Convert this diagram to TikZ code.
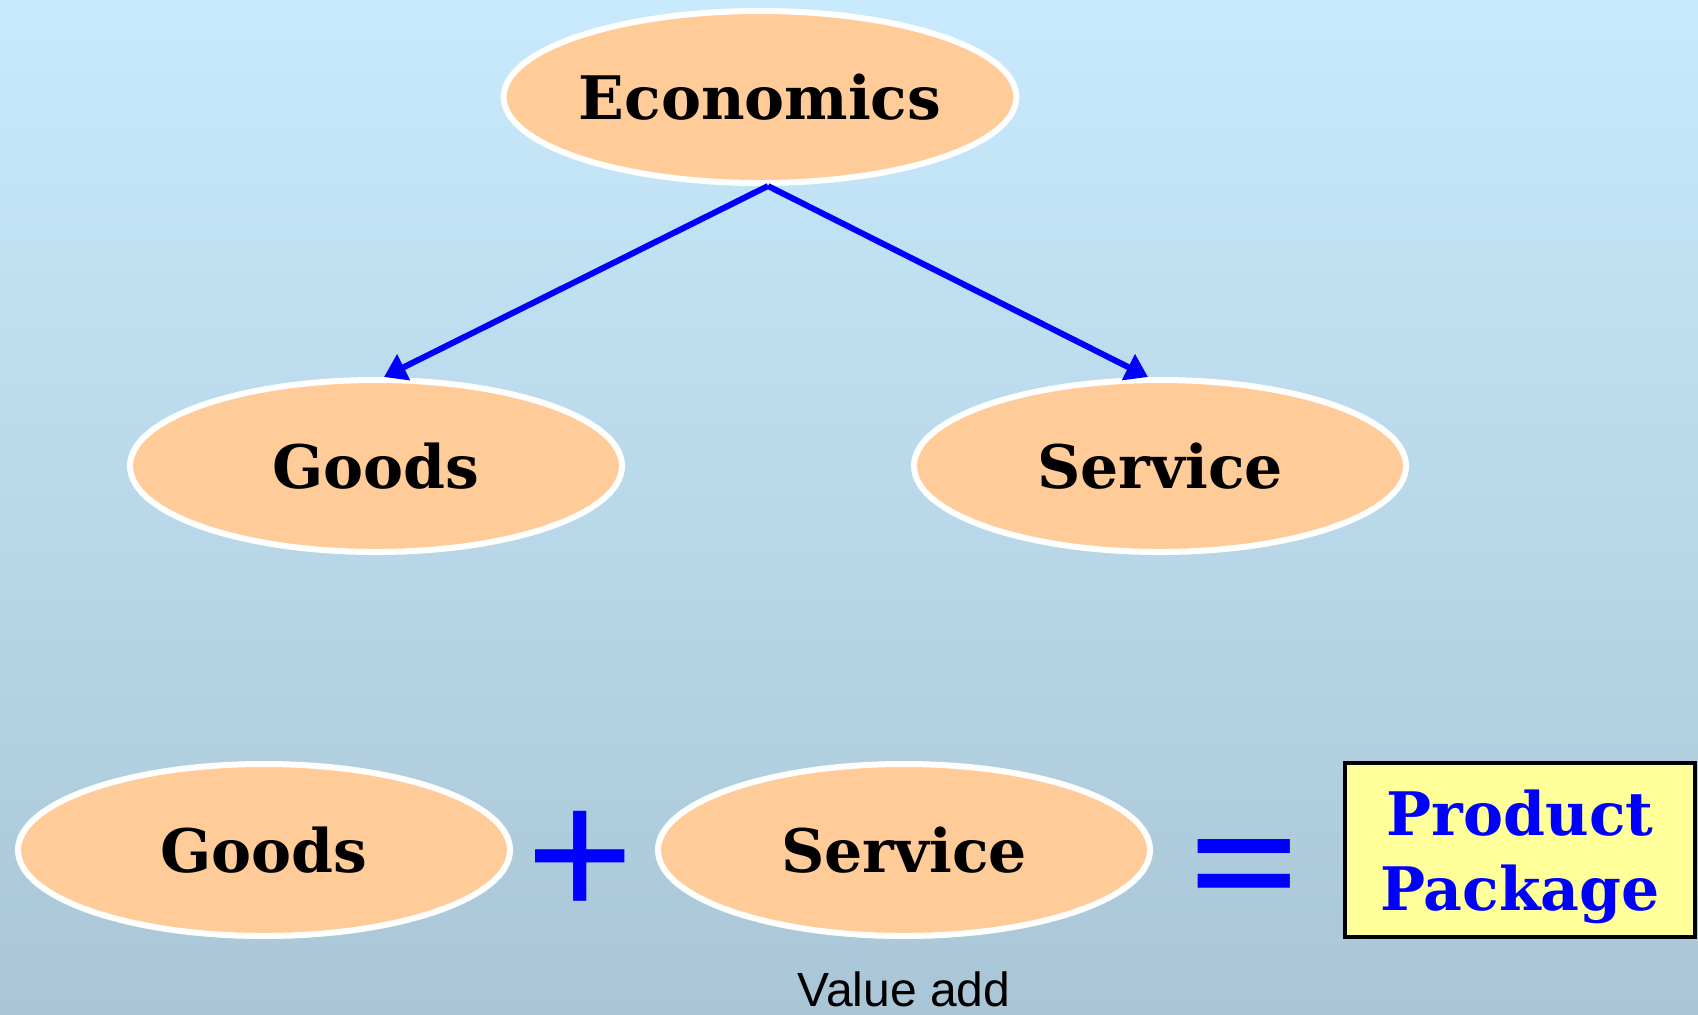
\documentclass[tikz,border=0pt]{standalone}
\usepackage{fontspec}
\setmainfont{DejaVu Serif}
\newfontfamily\arialfont{Liberation Sans}
\usetikzlibrary{shapes.geometric,arrows.meta}
\definecolor{fondoarriba}{HTML}{C8EAFC}
\definecolor{fondoabajo}{HTML}{AAC6D6}
\definecolor{naranja}{HTML}{FFCC99}
\definecolor{amarillo}{HTML}{FFFF99}

\begin{document}
\begin{tikzpicture}[x=0.5pt,y=-0.5pt,
    elipse/.style={ellipse, fill=naranja, draw=white, line width=3pt,
        minimum width=246pt, minimum height=86pt, inner sep=0pt,
        font=\fontsize{30}{36}\selectfont\bfseries},
    flecha/.style={draw=blue, line width=3pt, -{Triangle[length=11pt,width=14pt]}},
    signo/.style={text=blue, inner sep=0pt, anchor=base,
        font=\arialfont\fontsize{92}{92}\selectfont},
    caja/.style={rectangle, draw=black, line width=2pt, fill=amarillo,
        minimum width=175pt, minimum height=87pt, inner sep=0pt,
        align=center, text=blue, font=\fontsize{30}{37.5}\selectfont\bfseries}]
        % Fondo con degradado
        \fill[top color=fondoarriba, bottom color=fondoabajo] (0,0) rectangle (1698,1014);
        \useasboundingbox (0,0) rectangle (1698,1014);
        % Arbol de arriba
        \node[elipse] (econ) at (760,97) {Economics};
        \node[elipse] (goods) at (376,466) {Goods};
        \node[elipse] (service) at (1160,466) {Service};
        % Flechas
        \draw[flecha] ([xshift=4pt]econ.south) -- ([xshift=4pt]goods.north);
        \draw[flecha] ([xshift=4pt]econ.south) -- ([xshift=-6pt]service.north);
        % Fila de abajo: suma
        \node[elipse] (goodsb) at (264,850) {Goods};
        \node[signo] (mas) at (580,917) {+};
        \node[elipse] (serviceb) at (904,850) {Service};
        \node[signo] (igual) at (1244,906) {\bfseries\scalebox{1}[0.7]{=}};
        \node[caja] (paquete) at (1520,850) {\rule{0pt}{30pt}Product\\Package};
        % Texto debajo
        \node[anchor=base, inner sep=0pt, font=\arialfont\fontsize{24}{24}\selectfont] (valor) at (904,1006) {Value add};
    \end{tikzpicture}
\end{document}
